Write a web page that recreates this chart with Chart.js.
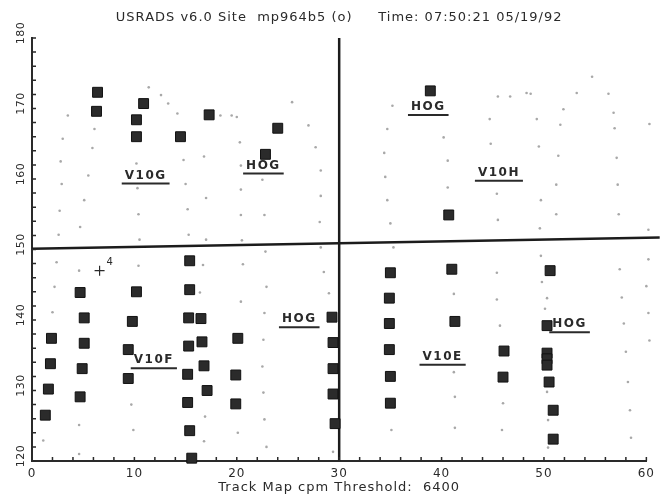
<!DOCTYPE html>
<html>
<head>
<meta charset="utf-8">
<script src="https://cdn.jsdelivr.net/npm/chart.js@4"></script>
<style>
  html, body { margin: 0; padding: 0; background: #fff; }
  canvas { display: block; }
</style>
</head>
<body>
<canvas id="chart" width="660" height="497"></canvas>
<script>
const titleText = 'USRADS v6.0 Site  mp964b5 (o)     Time: 07:50:21 05/19/92'
const xTitle = 'Track Map cpm Threshold:  6400'

// survey hits (black squares)
const upperSquaresX = [6.4, 6.3, 10.9, 10.2, 10.2, 14.5, 17.3, 24.0, 22.8, 38.9, 40.7]
const upperSquaresY = [172.3, 169.6, 170.7, 168.4, 166.0, 166.0, 169.1, 167.2, 163.5, 172.5, 154.9]
const lowerLeftSquaresX = [15.4, 4.7, 10.2, 15.4, 5.1, 9.8, 15.3, 16.5, 29.3, 1.9, 5.1, 9.4, 15.3, 16.6, 20.1, 29.4,
    1.8, 4.9, 16.8, 29.4, 9.4, 15.2, 19.9, 1.6, 17.1, 29.4, 4.7, 15.2, 19.9, 1.3, 29.6, 15.4, 15.6]
const lowerLeftSquaresY = [148.4, 143.9, 144.0, 144.3, 140.3, 139.8, 140.3, 140.2, 140.4, 137.4, 136.7, 135.8, 136.3, 136.9, 137.4, 136.8,
    133.8, 133.1, 133.5, 133.1, 131.7, 132.3, 132.2, 130.2, 130.0, 129.5, 129.1, 128.3, 128.1, 126.5, 125.3, 124.3, 120.4]
const lowerRightSquaresX = [35.0, 41.0, 50.6, 34.9, 34.9, 41.3, 50.3, 34.9, 46.1, 50.3, 50.3, 50.3, 35.0, 46.0, 50.5, 35.0, 50.9, 50.9]
const lowerRightSquaresY = [146.7, 147.2, 147.0, 143.1, 139.5, 139.8, 139.2, 135.8, 135.6, 135.3, 134.5, 133.6, 132.0, 131.9, 131.2, 128.2, 127.2, 123.1]

// track points (faint dots)
const upperDotsX = [3.5, 3.0, 2.8, 2.9, 2.7, 2.6, 6.1, 5.9, 5.5, 5.1, 4.7, 11.4, 12.6, 13.3, 14.2, 10.2, 10.3, 10.4, 10.5,
    14.8, 15.0, 15.2, 15.3, 16.8, 17.0, 17.0, 18.4, 19.5, 20.0, 20.3, 20.4, 20.4, 20.4, 20.5, 22.5, 22.7,
    25.4, 27.0, 27.7, 28.2, 28.2, 28.1, 35.2, 34.7, 34.4, 34.5, 34.7, 35.0, 40.2, 40.6, 40.6,
    45.5, 46.7, 48.3, 48.7, 44.7, 44.8, 45.4, 45.5, 49.3, 49.5, 49.7, 49.6, 51.9, 51.6, 51.4, 51.2, 51.2,
    53.2, 54.7, 56.3, 56.8, 56.9, 57.1, 57.2, 57.3, 60.3, 60.4, 60.4, 60.4, 60.2]
const upperDotsY = [169.0, 165.7, 162.5, 159.3, 155.5, 152.1, 167.1, 164.4, 160.5, 157.0, 153.2, 173.0, 171.9, 170.7, 169.3, 162.2, 158.7, 155.0, 151.4,
    162.7, 159.3, 155.7, 152.1, 163.2, 157.3, 151.4, 169.0, 169.0, 168.8, 165.2, 161.9, 158.5, 154.9, 151.3, 159.9, 154.9,
    170.9, 167.6, 164.5, 161.2, 157.6, 153.9, 170.4, 167.1, 163.7, 160.3, 157.0, 153.7, 165.9, 162.6, 158.8,
    171.7, 171.7, 172.2, 172.1, 168.5, 165.0, 157.9, 154.2, 168.5, 164.6, 157.0, 153.0, 169.9, 167.7, 163.3, 159.2, 155.0,
    172.2, 174.5, 172.1, 169.4, 167.2, 163.0, 159.2, 155.0, 167.8, 164.1, 160.7, 156.8, 152.8]
const lowerDotsX = [2.4, 4.6, 2.2, 2.0, 10.4, 16.7, 20.6, 22.8, 16.4, 20.4, 22.9, 22.7, 22.6, 22.5, 22.6, 22.7, 22.9,
    9.7, 9.9, 4.6, 4.6, 1.1, 16.9, 16.8, 20.1, 28.2, 28.5, 29.0, 29.4,
    35.3, 49.7, 49.8, 45.4, 45.4, 45.7, 41.2, 41.2, 41.3, 41.3, 46.0, 45.9, 35.1, 50.3, 50.1, 50.3, 50.4, 50.4,
    57.4, 57.6, 57.8, 58.0, 58.2, 58.4, 58.5, 60.2, 60.0, 60.2, 60.3, 60.5, 60.6, 60.6]
const lowerDotsY = [148.2, 147.0, 144.7, 141.1, 147.7, 147.8, 147.9, 149.7, 143.9, 142.6, 144.7, 141.0, 137.2, 133.4, 129.7, 125.9, 122.0,
    128.0, 124.4, 125.1, 121.0, 122.9, 126.3, 122.8, 124.0, 150.3, 146.8, 143.8, 121.3,
    150.3, 149.1, 145.4, 146.7, 142.9, 139.2, 143.7, 132.6, 129.1, 124.7, 128.2, 124.4, 124.4, 143.1, 141.6, 129.8, 125.8, 121.9,
    147.2, 143.2, 139.5, 135.5, 131.2, 127.2, 123.3, 148.6, 144.8, 141.0, 137.1, 133.1, 129.2, 125.2]

// quadrant divider lines
const hLineX = [0, 61.3]
const hLineY = [150.1, 151.7]
const vLineX = [30, 30]
const vLineY = [120, 180]

// handwritten notes
const noteText = ['V10G', 'HOG', 'HOG', 'V10H', 'V10F', 'HOG', 'V10E', 'HOG']
const noteX = [11.1, 22.6, 38.7, 45.6, 11.9, 26.1, 40.1, 52.5]
const noteY = [160.5, 161.9, 170.2, 160.9, 134.3, 140.1, 134.8, 139.4]
const crossX = [6.6]
const crossY = [147.0]
const crossLabel = '4'

const ink = '#2a2a2a'
const font = 'DejaVu Sans'

function pts(xs, ys) {
    return xs.map((v, i) => ({ x: v, y: ys[i] }))
}

// plotter-style text is widely spaced: applies to title and axis text only
const spacing = {
    id: 'spacing',
    beforeDraw(chart) {
        chart.ctx.letterSpacing = '1px'
    },
    beforeDatasetsDraw(chart) {
        chart.ctx.letterSpacing = '0px'
    },
}

const decorations = {
    id: 'decorations',
    afterDraw(chart) {
        const { ctx, scales: { x, y } } = chart
        ctx.save()

        // inward tick marks
        ctx.strokeStyle = ink
        ctx.lineWidth = 1.5
        ctx.beginPath()
        x.ticks.forEach(t => {
            const px = x.getPixelForValue(t.value)
            ctx.moveTo(px, y.bottom)
            ctx.lineTo(px, y.bottom - 4)
        })
        y.ticks.forEach(t => {
            const py = y.getPixelForValue(t.value)
            ctx.moveTo(x.left, py)
            ctx.lineTo(x.left + 4, py)
        })
        ctx.stroke()

        // rotated y labels
        ctx.fillStyle = ink
        ctx.font = '11px ' + font
        ctx.letterSpacing = '0.5px'
        ctx.textAlign = 'center'
        ctx.textBaseline = 'middle'
        y.ticks.filter(t => t.value % 10 === 0).forEach(t => {
            ctx.save()
            ctx.translate(21, y.getPixelForValue(t.value) - 5)
            ctx.rotate(-Math.PI / 2)
            ctx.fillText(String(t.value), 0, 0)
            ctx.restore()
        })

        // notes with underline
        ctx.font = 'bold 12px ' + font
        ctx.letterSpacing = '1.5px'
        noteText.forEach((s, i) => {
            const px = x.getPixelForValue(noteX[i])
            const py = y.getPixelForValue(noteY[i])
            ctx.fillText(s, px, py)
            const w = ctx.measureText(s).width
            ctx.lineWidth = 2
            ctx.beginPath()
            ctx.moveTo(px - w / 2 - 3, py + 8)
            ctx.lineTo(px + w / 2 + 3, py + 8)
            ctx.stroke()
        })
        ctx.letterSpacing = '0px'

        ctx.font = '10px ' + font
        ctx.fillText(crossLabel, x.getPixelForValue(crossX[0]) + 10, y.getPixelForValue(crossY[0]) - 8)

        ctx.restore()
    },
}

new Chart(document.getElementById('chart'), {
    type: 'scatter',
    data: {
        datasets: [
            {
                data: pts(upperSquaresX.concat(lowerLeftSquaresX, lowerRightSquaresX),
                    upperSquaresY.concat(lowerLeftSquaresY, lowerRightSquaresY)),
                pointStyle: 'rect',
                pointRadius: 7,
                backgroundColor: '#2b2b2b',
                borderColor: '#111',
                borderWidth: 1,
                clip: false,
            },
            {
                data: pts(crossX, crossY),
                pointStyle: 'cross',
                pointRadius: 5,
                borderColor: ink,
                borderWidth: 1.2,
            },
            {
                data: pts(hLineX, hLineY),
                showLine: true,
                pointRadius: 0,
                borderColor: '#1c1c1c',
                borderWidth: 2.5,
                clip: false,
            },
            {
                data: pts(vLineX, vLineY),
                showLine: true,
                pointRadius: 0,
                borderColor: '#1c1c1c',
                borderWidth: 2.5,
            },
            {
                data: pts(upperDotsX.concat(lowerDotsX), upperDotsY.concat(lowerDotsY)),
                pointRadius: 1.3,
                backgroundColor: '#a8a8a8',
                borderWidth: 0,
                clip: false,
            },
        ],
    },
    options: {
        animation: false,
        responsive: false,
        events: [],
        layout: { padding: { left: 0, right: 11, top: 0, bottom: 0 } },
        plugins: {
            legend: { display: false },
            tooltip: { enabled: false },
            title: {
                display: true,
                text: titleText,
                fullSize: false,
                color: ink,
                font: { family: font, size: 13, weight: 'normal' },
                padding: { top: 10, bottom: 12.4 },
            },
        },
        scales: {
            x: {
                type: 'linear',
                min: 0,
                max: 60,
                grid: { display: false, drawTicks: false },
                border: { color: ink, width: 2 },
                ticks: {
                    stepSize: 2,
                    autoSkip: false,
                    maxRotation: 0,
                    padding: 6,
                    color: ink,
                    font: { family: font, size: 12 },
                    callback: v => (v % 10 === 0 ? v : ''),
                },
                title: {
                    display: true,
                    text: xTitle,
                    color: ink,
                    font: { family: font, size: 13 },
                    padding: { top: 0, bottom: 2 },
                },
                afterFit: s => { s.height = 36 },
            },
            y: {
                type: 'linear',
                min: 120,
                max: 180,
                grid: { display: false, drawTicks: false },
                border: { color: ink, width: 2 },
                ticks: { display: false, stepSize: 2 },
                afterFit: s => { s.width = 32 },
            },
        },
    },
    plugins: [spacing, decorations],
})
</script>
</body>
</html>
